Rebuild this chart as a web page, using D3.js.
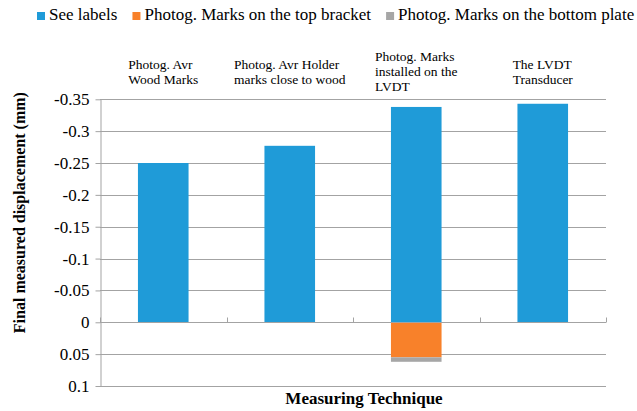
<!DOCTYPE html>
<html>
<head>
<meta charset="utf-8">
<script src="https://cdn.jsdelivr.net/npm/d3@7/dist/d3.min.js"></script>
<style>
  html, body { margin: 0; padding: 0; background: #fff; }
  svg { display: block; font-family: "Liberation Serif", "Times New Roman", serif; }
</style>
</head>
<body>
<svg id="chart" width="637" height="411"></svg>
<script>
// Measuring techniques (category labels, one entry per line of text)
const categories = [
  ["Photog. Avr", "Wood Marks"],
  ["Photog. Avr Holder", "marks close to wood"],
  ["Photog. Marks", "installed on the", "LVDT"],
  ["The LVDT", "Transducer"]
];
const seriesNames = ["See labels", "Photog. Marks on the top bracket", "Photog. Marks on the bottom plate"];
const seeLabels   = [-0.25, -0.277, -0.338, -0.343];
const topBracket  = [0, 0, 0.055, 0];
const bottomPlate = [0, 0, 0.007, 0];
const yTicks = [-0.35, -0.3, -0.25, -0.2, -0.15, -0.1, -0.05, 0, 0.05, 0.1];
const colors = ["#1f9bd8", "#f8812a", "#a6a6a6"];

const svg = d3.select("#chart");
const margin = { left: 100, right: 31, top: 99.3, bottom: 25 };
const W = 637, H = 411;

const keys = ["a", "b", "c"];
const rows = categories.map((c, i) => ({ cat: c.join(" "), a: seeLabels[i], b: topBracket[i], c: bottomPlate[i] }));

const x = d3.scaleBand()
  .domain(rows.map(r => r.cat))
  .range([margin.left, W - margin.right])
  .paddingInner(0.6)
  .paddingOuter(0.3);

const y = d3.scaleLinear()
  .domain([-0.35, 0.1])
  .range([margin.top, 386]);

// horizontal gridlines
svg.append("g")
  .selectAll("line")
  .data(yTicks)
  .join("line")
  .attr("x1", margin.left)
  .attr("x2", W - margin.right)
  .attr("y1", d => Math.round(y(d)) + 0.5)
  .attr("y2", d => Math.round(y(d)) + 0.5)
  .attr("stroke", "#a3a3a3")
  .attr("stroke-width", 1);

// stacked bars (negative values go up, positive down)
const stacked = d3.stack().keys(keys).offset(d3.stackOffsetDiverging)(rows);
svg.append("g")
  .selectAll("g")
  .data(stacked)
  .join("g")
  .attr("fill", (d, i) => colors[i])
  .selectAll("rect")
  .data(d => d.filter(s => s[1] !== s[0]).map(s => ({ s, cat: s.data.cat })))
  .join("rect")
  .attr("x", d => x(d.cat))
  .attr("width", x.bandwidth())
  .attr("y", d => y(Math.min(d.s[0], d.s[1])))
  .attr("height", d => Math.abs(y(d.s[1]) - y(d.s[0])));

// y axis
const yAxis = svg.append("g")
  .attr("transform", `translate(${margin.left + 0.5},0)`)
  .call(d3.axisLeft(y).tickValues(yTicks).tickFormat(d => String(d)).tickSize(5).tickSizeOuter(0).tickPadding(6));
yAxis.select(".domain").attr("stroke", "#a3a3a3");
yAxis.selectAll(".tick line").attr("stroke", "#a3a3a3");
yAxis.selectAll(".tick text")
  .attr("font-size", 17)
  .attr("font-family", "Liberation Serif, Times New Roman, serif")
  .attr("fill", "#000");

// category axis at zero, with boundary ticks pointing up
const y0 = Math.round(y(0)) + 0.5;
svg.append("line")
  .attr("x1", margin.left).attr("x2", W - margin.right)
  .attr("y1", y0).attr("y2", y0)
  .attr("stroke", "#a3a3a3");
const halfGap = (x.step() - x.bandwidth()) / 2;
const bounds = rows.map(r => x(r.cat) - halfGap).concat([x(rows[rows.length - 1].cat) + x.bandwidth() + halfGap]);
svg.append("g")
  .selectAll("line")
  .data(bounds)
  .join("line")
  .attr("x1", d => Math.round(d) + 0.5)
  .attr("x2", d => Math.round(d) + 0.5)
  .attr("y1", y0 - 5)
  .attr("y2", y0)
  .attr("stroke", "#a3a3a3");

// category labels above the plot, each block centred on a common line
const lineH = 15;
const labelMid = 76;
const catLabels = svg.append("g")
  .selectAll("text")
  .data(categories)
  .join("text")
  .attr("text-anchor", "start")
  .attr("font-size", 13.5)
  .attr("fill", "#000");
catLabels.each(function(lines, i) {
  const t = d3.select(this);
  const cx = x(rows[i].cat) + x.bandwidth() / 2;
  const spans = lines.map((ln, j) => t.append("tspan").text(ln)
    .attr("y", labelMid + (j - (lines.length - 1) / 2) * lineH));
  // widest line decides the left edge so the block is centred
  let maxW = 0;
  spans.forEach(s => { maxW = Math.max(maxW, s.node().getComputedTextLength()); });
  spans.forEach(s => s.attr("x", cx - maxW / 2));
});

// axis titles
svg.append("text")
  .attr("transform", `translate(25,${(margin.top + 386) / 2 - 30}) rotate(-90)`)
  .attr("text-anchor", "middle")
  .attr("font-weight", "bold")
  .attr("font-size", 16)
  .attr("fill", "#000")
  .text("Final measured displacement (mm)");

svg.append("text")
  .attr("x", 364)
  .attr("y", 404)
  .attr("text-anchor", "middle")
  .attr("font-weight", "bold")
  .attr("font-size", 17)
  .attr("fill", "#000")
  .text("Measuring Technique");

// legend
const legend = svg.append("g");
let lx = 37;
seriesNames.forEach((name, i) => {
  legend.append("rect")
    .attr("x", lx).attr("y", 12)
    .attr("width", 8).attr("height", 8)
    .attr("fill", colors[i]);
  const t = legend.append("text")
    .attr("x", lx + 12).attr("y", 20)
    .attr("font-size", 17)
    .attr("fill", "#000")
    .text(name);
  lx += 12 + t.node().getComputedTextLength() + 15;
});
</script>
</body>
</html>
